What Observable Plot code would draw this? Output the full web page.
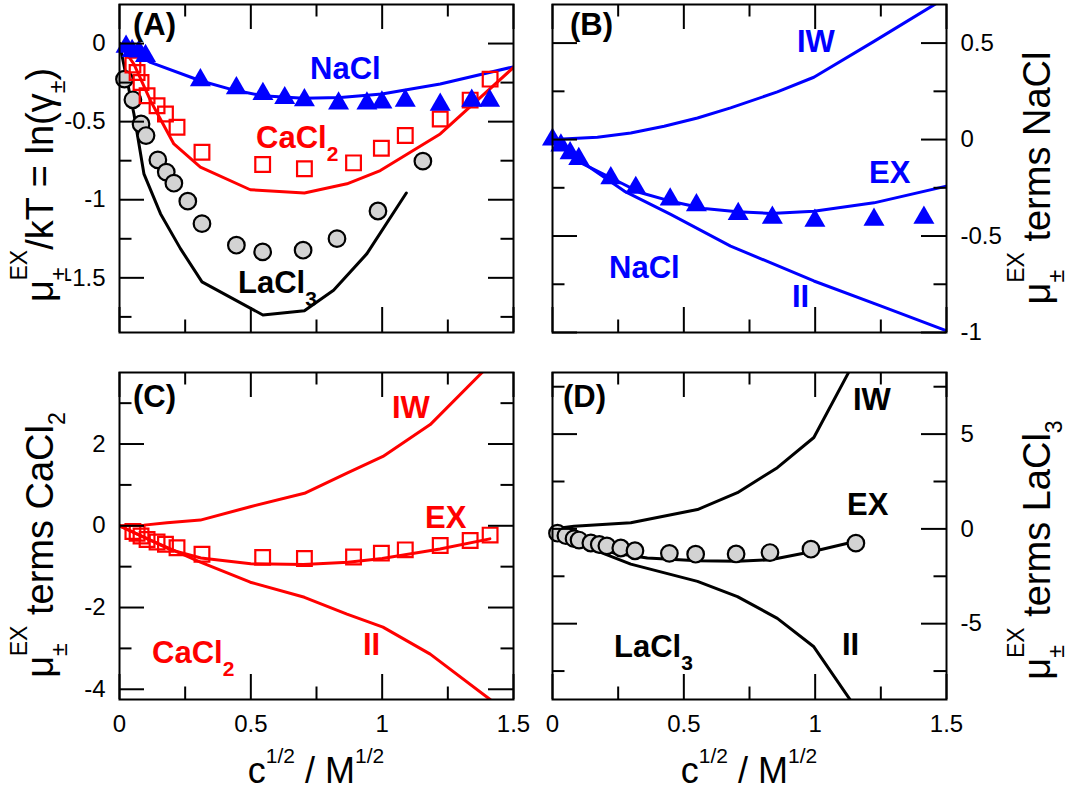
<!DOCTYPE html>
<html><head><meta charset="utf-8">
<script src="https://cdn.jsdelivr.net/npm/d3@7"></script>
<script src="https://cdn.jsdelivr.net/npm/@observablehq/plot@0.6"></script>
<style>
body{margin:0;background:#fff;}
#chart{position:relative;width:1069px;height:792px;background:#fff;overflow:hidden;}
#chart svg{position:absolute;left:0;top:0;}
</style></head><body><div id="chart"></div>
<script>
// ---------- tick definitions ----------
const xMajor = [0, 0.5, 1, 1.5];
const xMinor = [0.25, 0.75, 1.25];
const yMajorA = [0, -0.5, -1, -1.5], yMinorA = [-0.25, -0.75, -1.25, -1.75];
const yMajorB = [0.5, 0, -0.5, -1],  yMinorB = [0.25, -0.25, -0.75];
const yMajorC = [2, 0, -2, -4],      yMinorC = [3, 1, -1, -3];
const yMajorD = [5, 0, -5],          yMinorD = [7.5, 2.5, -2.5, -7.5];

// ---------- panel A ----------
const naclExpX = [0.025, 0.048, 0.074, 0.099, 0.308, 0.445, 0.546, 0.629, 0.704, 0.834, 0.942, 0.999, 1.088, 1.221, 1.341, 1.409];
const naclExpY = [-0.02, -0.047, -0.051, -0.079, -0.234, -0.285, -0.323, -0.349, -0.362, -0.383, -0.383, -0.377, -0.366, -0.391, -0.366, -0.366];
const naclLineX = [0, 0.118, 0.308, 0.435, 0.543, 0.701, 0.841, 0.999, 1.221, 1.5];
const naclLineY = [0, -0.121, -0.238, -0.298, -0.334, -0.351, -0.345, -0.323, -0.259, -0.149];
const cacl2ExpX = [0.051, 0.067, 0.082, 0.105, 0.143, 0.175, 0.219, 0.314, 0.545, 0.704, 0.891, 0.997, 1.088, 1.221, 1.335, 1.411];
const cacl2ExpY = [-0.138, -0.185, -0.249, -0.334, -0.398, -0.451, -0.536, -0.696, -0.774, -0.802, -0.764, -0.670, -0.589, -0.483, -0.362, -0.228];
const cacl2LineX = [0, 0.055, 0.118, 0.207, 0.308, 0.498, 0.704, 0.866, 0.993, 1.221, 1.5];
const cacl2LineY = [0, -0.132, -0.366, -0.643, -0.791, -0.936, -0.957, -0.898, -0.813, -0.579, -0.153];
const lacl3ExpX = [0.019, 0.051, 0.082, 0.101, 0.146, 0.178, 0.207, 0.260, 0.314, 0.445, 0.545, 0.699, 0.828, 0.984, 1.155];
const lacl3ExpY = [-0.228, -0.360, -0.515, -0.589, -0.745, -0.823, -0.894, -1.009, -1.153, -1.291, -1.334, -1.323, -1.249, -1.072, -0.753];
const lacl3LineX = [0, 0.055, 0.093, 0.156, 0.232, 0.314, 0.546, 0.704, 0.815, 0.942, 1.092];
const lacl3LineY = [0, -0.451, -0.834, -1.089, -1.313, -1.526, -1.738, -1.711, -1.579, -1.345, -0.957];

// ---------- panel B (NaCl terms) ----------
const naclSimX = [0, 0.032, 0.067, 0.10, 0.222, 0.317, 0.448, 0.548, 0.707, 0.837, 0.999, 1.224, 1.414];
const naclSimY = [0.0, -0.03, -0.07, -0.10, -0.20, -0.25, -0.31, -0.34, -0.385, -0.405, -0.42, -0.415, -0.405];
const exBX = [0, 0.108, 0.222, 0.336, 0.463, 0.577, 0.704, 0.830, 0.995, 1.224, 1.5];
const exBY = [0, -0.121, -0.198, -0.276, -0.324, -0.357, -0.374, -0.383, -0.371, -0.328, -0.241];
const iwBX = [0, 0.171, 0.298, 0.425, 0.552, 0.678, 0.856, 0.995, 1.224, 1.452, 1.5];
const iwBY = [0, 0.012, 0.034, 0.069, 0.112, 0.164, 0.247, 0.323, 0.509, 0.698, 0.738];
const iiBX = [0, 0.108, 0.273, 0.450, 0.678, 0.995, 1.249, 1.5];
const iiBY = [0, -0.112, -0.267, -0.388, -0.552, -0.733, -0.862, -0.991];

// ---------- panel C (CaCl2 terms) ----------
const exCX = [0, 0.1, 0.2, 0.31, 0.5, 0.7, 0.87, 1.0, 1.22, 1.41];
const exCY = [0, -0.30, -0.60, -0.79, -0.93, -0.95, -0.89, -0.80, -0.57, -0.32];
const iwCX = [0, 0.093, 0.181, 0.308, 0.498, 0.704, 0.866, 1.003, 1.183, 1.386];
const iwCY = [0, 0.016, 0.074, 0.139, 0.467, 0.795, 1.287, 1.697, 2.475, 3.787];
const iiCX = [0, 0.118, 0.308, 0.498, 0.704, 0.866, 1.003, 1.183, 1.411];
const iiCY = [0, -0.35, -0.89, -1.38, -1.75, -2.16, -2.48, -3.14, -4.25];

// ---------- panel D (LaCl3 terms) ----------
const exDX = [0, 0.108, 0.235, 0.361, 0.552, 0.704, 0.830, 0.995, 1.156];
const exDY = [0, -0.65, -1.27, -1.54, -1.68, -1.71, -1.63, -1.18, -0.65];
const iwDX = [0, 0.082, 0.298, 0.552, 0.704, 0.856, 0.995, 1.128];
const iwDY = [0, 0.14, 0.32, 1.02, 1.91, 3.23, 4.82, 8.27];
const iiDX = [0, 0.108, 0.298, 0.552, 0.704, 0.856, 0.995, 1.135];
const iiDY = [0, -0.83, -1.86, -2.77, -3.57, -4.72, -6.22, -9.05];

// ---------- rendering ----------
const W = 1069, H = 792;
const FONT = '"Liberation Sans", Arial, Helvetica, sans-serif';
const BLUE = "#0000ff", RED = "#ff0000", BLACK = "#000000", GREY = "#d3d3d3";
const LW = 3;
const pts = (xs, ys) => xs.map((x, i) => ({x, y: ys[i]}));
const line = (xs, ys, color) => Plot.line(pts(xs, ys), {x: "x", y: "y", stroke: color, strokeWidth: LW, clip: true});
const tri = (xs, ys) => Plot.dot(pts(xs, ys), {x: "x", y: "y", symbol: "triangle", r: 7.8, fill: BLUE, stroke: "none"});
const sq = (xs, ys) => Plot.dot(pts(xs, ys), {x: "x", y: "y", symbol: "square", r: 8.3, fill: "none", stroke: RED, strokeWidth: 2.2});
const circ = (xs, ys) => Plot.dot(pts(xs, ys), {x: "x", y: "y", r: 8.3, fill: GREY, stroke: BLACK, strokeWidth: 2.2});

function panel({frame: [x0, y0, x1, y1], yDomain, yMajor, yMinor, yAnchor, xLabels, marks}) {
  const fw = x1 - x0, fh = y1 - y0;
  const TL = 25, tl = 12.5;
  const tk = {stroke: "black", strokeWidth: 2};
  const axes = [
    Plot.tickX(xMajor, {x: d => d, insetBottom: fh - TL, ...tk}),
    Plot.tickX(xMajor, {x: d => d, insetTop: fh - TL, ...tk}),
    Plot.tickX(xMinor, {x: d => d, insetBottom: fh - tl, ...tk}),
    Plot.tickX(xMinor, {x: d => d, insetTop: fh - tl, ...tk}),
    Plot.tickY(yMajor, {y: d => d, insetRight: fw - TL, ...tk}),
    Plot.tickY(yMajor, {y: d => d, insetLeft: fw - TL, ...tk}),
    Plot.tickY(yMinor, {y: d => d, insetRight: fw - tl, ...tk}),
    Plot.tickY(yMinor, {y: d => d, insetLeft: fw - tl, ...tk}),
    Plot.axisY({anchor: yAnchor, ticks: yMajor, tickSize: 0, tickPadding: 14, tickFormat: d => String(d), label: null, fontSize: 24})
  ];
  if (xLabels) axes.push(Plot.axisX({anchor: "bottom", ticks: xMajor, tickSize: 0, tickPadding: 15, tickFormat: d => String(d), label: null, fontSize: 24}));
  axes.push(Plot.frame({stroke: "black", strokeWidth: 2}));
  return Plot.plot({
    width: W, height: H,
    marginLeft: x0, marginRight: W - x1, marginTop: y0, marginBottom: H - y1,
    style: {background: "transparent", fontFamily: FONT, fontSize: "24px", color: "black"},
    x: {domain: [0, 1.5], axis: null},
    y: {domain: yDomain, axis: null},
    marks: [...marks, ...axes]
  });
}

function addText(svg, {x, y, rotate = 0, anchor = "start", fill = BLACK, weight = "normal", size, segs}) {
  const t = d3.select(svg).append("text")
    .attr("transform", `translate(${x},${y})` + (rotate ? ` rotate(${rotate})` : ""))
    .attr("text-anchor", anchor).attr("fill", fill).attr("font-weight", weight)
    .attr("font-family", FONT).attr("font-size", size);
  for (const s of segs) {
    const ts = t.append("tspan").text(s.t);
    if (s.size) ts.attr("font-size", s.size);
    if (s.dy) ts.attr("dy", s.dy);
    if (s.dx) ts.attr("dx", s.dx);
  }
}
const LBL = 31, SUB = 21, TSZ = 38, TSUB = 23;
const bold = (svg, x, y, fill, main, sub) => addText(svg, {x, y, fill, weight: "bold", size: LBL,
  segs: sub ? [{t: main}, {t: sub, size: SUB, dy: 13}] : [{t: main}]});
const muTitle = (rest, sub) => {
  const s = [{t: "μ"}, {t: "±", size: TSUB, dy: 14}, {t: "EX", size: TSUB, dx: -13, dy: -40}, {t: rest, dy: 26}];
  if (sub) s.push({t: sub, size: TSUB, dy: 12});
  return s;
};
const cTitle = [{t: "c"}, {t: "1/2", size: SUB, dy: -20}, {t: " / M", dy: 20}, {t: "1/2", size: SUB, dy: -20}];

const chart = document.getElementById("chart");

// Panel A
const svgA = panel({
  frame: [119, 4, 513, 332], yDomain: [-1.85, 0.25], yMajor: yMajorA, yMinor: yMinorA, yAnchor: "left", xLabels: false,
  marks: [
    line(naclLineX, naclLineY, BLUE), line(cacl2LineX, cacl2LineY, RED), line(lacl3LineX, lacl3LineY, BLACK),
    circ(lacl3ExpX, lacl3ExpY), sq(cacl2ExpX, cacl2ExpY), tri(naclExpX, naclExpY)
  ]
});
chart.appendChild(svgA);
bold(svgA, 133, 35, BLACK, "(A)");
bold(svgA, 310, 79, BLUE, "NaCl");
bold(svgA, 256, 148, RED, "CaCl", "2");
bold(svgA, 238, 293, BLACK, "LaCl", "3");
addText(svgA, {x: 53, y: 185, rotate: -90, anchor: "middle", size: TSZ,
  segs: [...muTitle("/kT = ln(γ"), {t: "±", size: TSUB, dy: 12}, {t: ")", dy: -12}]});

// Panel B
const svgB = panel({
  frame: [552, 4, 946, 332], yDomain: [-1, 0.7], yMajor: yMajorB, yMinor: yMinorB, yAnchor: "right", xLabels: false,
  marks: [line(iwBX, iwBY, BLUE), line(exBX, exBY, BLUE), line(iiBX, iiBY, BLUE), tri(naclSimX, naclSimY)]
});
chart.appendChild(svgB);
bold(svgB, 570, 35, BLACK, "(B)");
bold(svgB, 797, 52, BLUE, "IW");
bold(svgB, 869, 183, BLUE, "EX");
bold(svgB, 609, 278, BLUE, "NaCl");
bold(svgB, 792, 307, BLUE, "II");
addText(svgB, {x: 1050, y: 178, rotate: -90, anchor: "middle", size: TSZ, segs: muTitle(" terms NaCl")});

// Panel C
const svgC = panel({
  frame: [119, 372, 513, 699], yDomain: [-4.25, 3.75], yMajor: yMajorC, yMinor: yMinorC, yAnchor: "left", xLabels: true,
  marks: [line(iwCX, iwCY, RED), line(exCX, exCY, RED), line(iiCX, iiCY, RED), sq(cacl2ExpX, cacl2ExpY)]
});
chart.appendChild(svgC);
bold(svgC, 133, 407, BLACK, "(C)");
bold(svgC, 392, 418, RED, "IW");
bold(svgC, 425, 528, RED, "EX");
bold(svgC, 152, 663, RED, "CaCl", "2");
bold(svgC, 363, 655, RED, "II");
addText(svgC, {x: 53, y: 545, rotate: -90, anchor: "middle", size: TSZ, segs: muTitle(" terms CaCl", "2")});
addText(svgC, {x: 316, y: 783, anchor: "middle", size: 36, segs: cTitle});

// Panel D
const svgD = panel({
  frame: [552, 372, 946, 699], yDomain: [-9, 8.25], yMajor: yMajorD, yMinor: yMinorD, yAnchor: "right", xLabels: true,
  marks: [line(iwDX, iwDY, BLACK), line(exDX, exDY, BLACK), line(iiDX, iiDY, BLACK), circ(lacl3ExpX, lacl3ExpY)]
});
chart.appendChild(svgD);
bold(svgD, 563, 407, BLACK, "(D)");
bold(svgD, 853, 410, BLACK, "IW");
bold(svgD, 847, 515, BLACK, "EX");
bold(svgD, 614, 657, BLACK, "LaCl", "3");
bold(svgD, 842, 655, BLACK, "II");
addText(svgD, {x: 1050, y: 550, rotate: -90, anchor: "middle", size: TSZ, segs: muTitle(" terms LaCl", "3")});
addText(svgD, {x: 749, y: 783, anchor: "middle", size: 36, segs: cTitle});
</script></body></html>
